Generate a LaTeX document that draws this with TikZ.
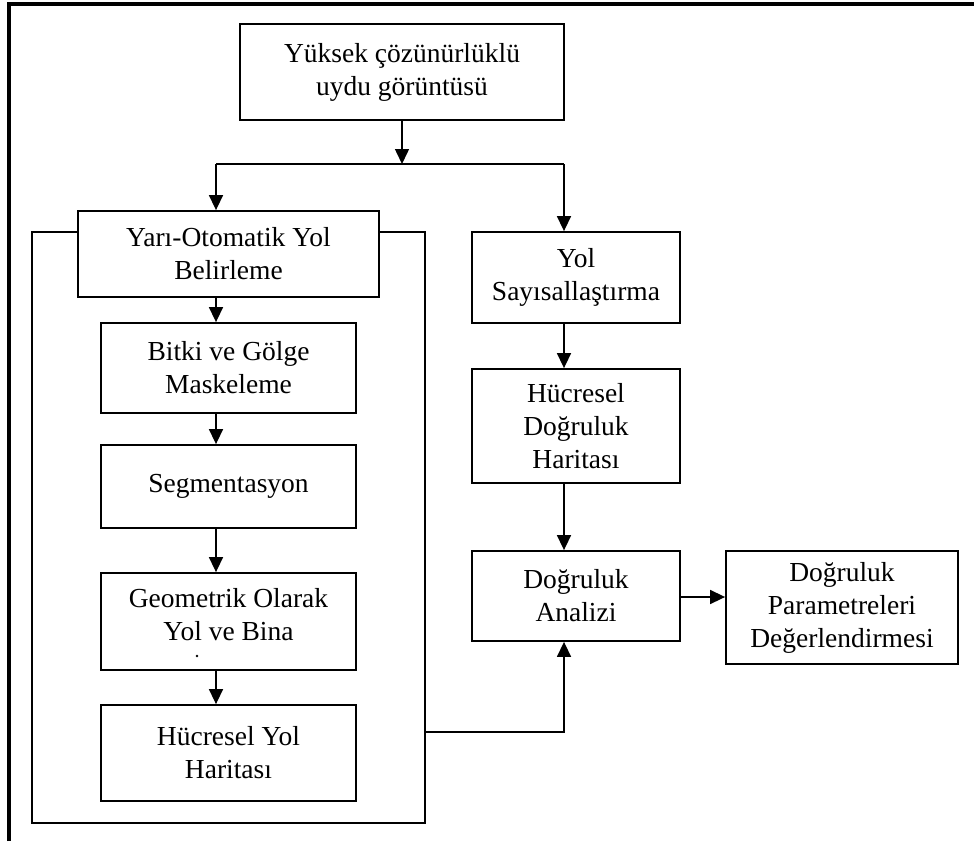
\documentclass[tikz,border=0pt]{standalone}
\usepackage{fontspec}
\setmainfont{Liberation Serif}
\usetikzlibrary{arrows.meta}
\begin{document}
\begin{tikzpicture}[x=1pt,y=-1pt,
  box/.style={draw, line width=1.8pt, fill=white, align=center, inner sep=0pt,
    font=\fontsize{27.5}{33}\selectfont},
  grp/.style={draw, line width=1.5pt, inner sep=0pt},
  arr/.style={line width=1.5pt, -{Triangle[length=15pt,width=14pt]}},
  ln/.style={line width=1.5pt},
  frame/.style={line width=3.6pt}]
\useasboundingbox (0,0) rectangle (974,841);
% outer frame
\draw[frame] (9,841) -- (9,3.8) -- (974,3.8);
% group rectangle
\node[grp, minimum width=393pt, minimum height=591pt] (group) at (228.5,527.5) {};
% boxes
\node[box, minimum width=324pt, minimum height=96pt] (top) at (402,72) {Yüksek çözünürlüklü\\uydu görüntüsü};
\node[box, minimum width=301pt, minimum height=86pt] (yari) at (228.5,254) {Yarı-Otomatik Yol\\Belirleme};
\node[box, minimum width=208pt, minimum height=91pt] (sayi) at (576,277.5) {Yol\\Sayısallaştırma};
\node[box, minimum width=255pt, minimum height=90pt] (bitki) at (228.5,368) {Bitki ve Gölge\\Maskeleme};
\node[box, minimum width=255pt, minimum height=83pt] (seg) at (228.5,486.5) {Segmentasyon};
\node[box, minimum width=255pt, minimum height=97pt] (geo) at (228.5,621.5) {};
\node[font=\fontsize{27.5}{33}\selectfont, align=center, inner sep=0pt] (geotext) at (228.5,615) {Geometrik Olarak\\Yol ve Bina};
\fill (197,656) circle (1.3pt);
\node[box, minimum width=255pt, minimum height=96pt] (hyol) at (228.5,753) {Hücresel Yol\\Haritası};
\node[box, minimum width=208pt, minimum height=114pt] (hdog) at (576,426) {Hücresel\\Doğruluk\\Haritası};
\node[box, minimum width=208pt, minimum height=90pt] (anal) at (576,596) {Doğruluk\\Analizi};
\node[box, minimum width=232pt, minimum height=113pt] (param) at (842,607.5) {Doğruluk\\Parametreleri\\Değerlendirmesi};
% helper coordinates
\coordinate (jc) at (402,164);
\coordinate (jl) at (216,164);
\coordinate (jr) at (564,164);
\coordinate (lx) at (216,0);
\coordinate (rx) at (564,0);
\coordinate (bl) at (425,732);
\coordinate (br) at (564,732);
% connectors
\draw[arr] (top.south -| jc) -- (jc);
\draw[ln] (jl) -- (jr);
\draw[arr] (jl) -- (yari.north -| jl);
\draw[arr] (jr) -- (sayi.north -| jr);
\draw[arr] (yari.south -| lx) -- (bitki.north -| lx);
\draw[arr] (bitki.south -| lx) -- (seg.north -| lx);
\draw[arr] (seg.south -| lx) -- (geo.north -| lx);
\draw[arr] (geo.south -| lx) -- (hyol.north -| lx);
\draw[arr] (sayi.south -| rx) -- (hdog.north -| rx);
\draw[arr] (hdog.south -| rx) -- (anal.north -| rx);
\draw[arr] (bl) -- (br) -- (anal.south -| br);
\draw[arr] (anal.east |- 0,597) -- (param.west |- 0,597);
\end{tikzpicture}
\end{document}
